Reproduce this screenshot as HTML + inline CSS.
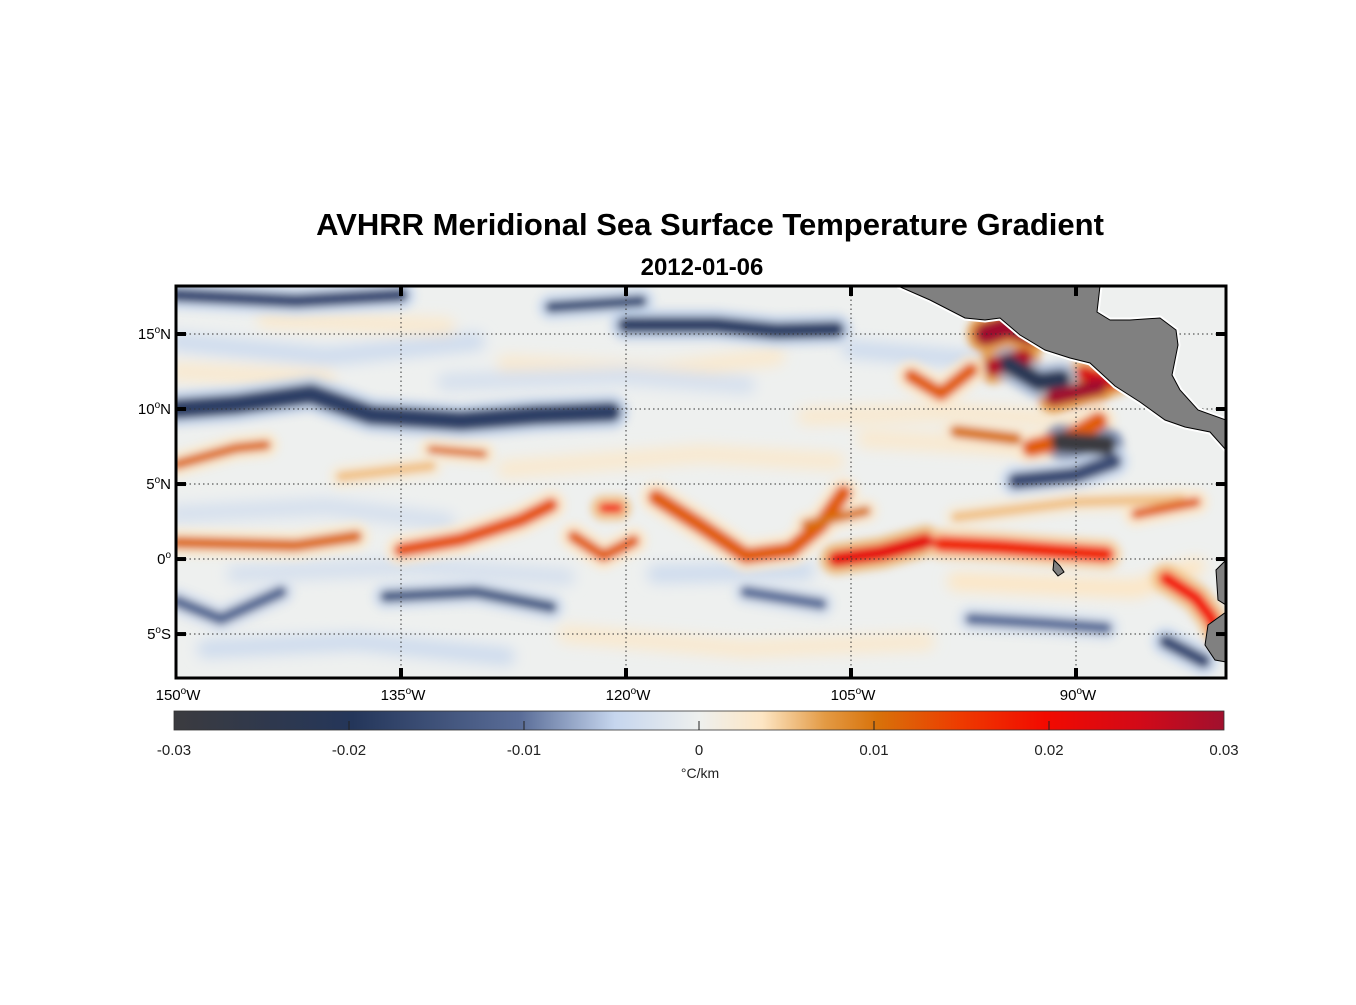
<!DOCTYPE html>
<html><head><meta charset="utf-8">
<style>
html,body{margin:0;padding:0;background:#fff;}
body{width:1356px;height:1000px;position:relative;overflow:hidden;font-family:"Liberation Sans",Arial,sans-serif;}
</style></head>
<body>
<svg id="fig" width="1356" height="1000" xmlns="http://www.w3.org/2000/svg">
<defs>
<clipPath id="mapclip"><rect x="176" y="286" width="1050" height="392"/></clipPath>
<filter id="blur" x="-20%" y="-20%" width="140%" height="140%"><feGaussianBlur stdDeviation="4"/></filter>
<filter id="blurbg" x="-20%" y="-20%" width="140%" height="140%"><feGaussianBlur stdDeviation="7"/></filter>
<linearGradient id="cbgrad" x1="0" x2="1" y1="0" y2="0">
<stop offset="0" stop-color="#3b3b3f"/>
<stop offset="0.17" stop-color="#24365a"/>
<stop offset="0.33" stop-color="#5a6d98"/>
<stop offset="0.42" stop-color="#c6d6ee"/>
<stop offset="0.5" stop-color="#eef0ee"/>
<stop offset="0.56" stop-color="#fde6c4"/>
<stop offset="0.62" stop-color="#e39a44"/>
<stop offset="0.67" stop-color="#d8720a"/>
<stop offset="0.75" stop-color="#ee3a00"/>
<stop offset="0.83" stop-color="#f20a00"/>
<stop offset="0.92" stop-color="#d20a18"/>
<stop offset="1" stop-color="#a0102e"/>
</linearGradient>
</defs>
<text x="710" y="235" text-anchor="middle" font-size="31" font-weight="bold" fill="#000">AVHRR Meridional Sea Surface Temperature Gradient</text>
<text x="702" y="275" text-anchor="middle" font-size="24" font-weight="bold" fill="#000">2012-01-06</text>
<g id="map" clip-path="url(#mapclip)">
<rect x="176" y="286" width="1050" height="392" fill="#eef0ef"/>
<g id="bgfield" filter="url(#blurbg)"></g>
<g id="field" filter="url(#blur)"></g>
<g id="grid"></g>
<path d="M898,286 L1100,286 L1097,312 L1110,320 L1130,320 L1160,318 L1176,330 L1178,345 L1172,375 L1180,390 L1198,410 L1226,420 L1226,450 L1210,432 L1185,427 L1165,420 L1140,402 L1115,386 L1090,363 L1070,358 L1045,350 L1020,335 L1000,318 L985,320 L965,318 L930,300 Z" fill="#808080" stroke="#fff" stroke-width="5" paint-order="stroke"/>
<path d="M898,286 L1100,286 L1097,312 L1110,320 L1130,320 L1160,318 L1176,330 L1178,345 L1172,375 L1180,390 L1198,410 L1226,420 L1226,450 L1210,432 L1185,427 L1165,420 L1140,402 L1115,386 L1090,363 L1070,358 L1045,350 L1020,335 L1000,318 L985,320 L965,318 L930,300 Z" fill="none" stroke="#000" stroke-width="1"/>
<path d="M1226,560 L1216,570 L1218,600 L1226,605 Z M1226,612 L1208,625 L1205,645 L1215,660 L1226,662 Z" fill="#808080" stroke="#000" stroke-width="1"/>
<path d="M1054,560 L1060,566 L1064,572 L1058,576 L1053,570 Z" fill="#808080" stroke="#000" stroke-width="1"/>
</g>
<rect x="176" y="286" width="1050" height="392" fill="none" stroke="#000" stroke-width="3"/>
<g id="axes"></g>
<rect x="174" y="711" width="1050" height="19" fill="url(#cbgrad)" stroke="#333" stroke-width="0.8"/>
<g id="cbticks"></g>
<text x="700" y="778" text-anchor="middle" font-size="14" fill="#222">°C/km</text>
</svg>
<script>
const NS='http://www.w3.org/2000/svg';
const lonMin=-150, lonMax=-80, latMin=-7.93, latMax=18.2;
const lonTicks=[-150,-135,-120,-105,-90];
const lonLabels=['150','135','120','105','90'];
const latTicks=[15,10,5,0,-5];
const latLabels=['15','10','5','0','5'];
const latHemi=['N','N','N','','S'];
const cbTicks=[-0.03,-0.02,-0.01,0,0.01,0.02,0.03];
const cbLabels=['-0.03','-0.02','-0.01','0','0.01','0.02','0.03'];
// weak background texture features
const bgLon=[
 [-150,-140,-130],[-128,-118,-110],[-105,-96],[-150,-140,-132],[-128,-115,-106],[-104,-94],
 [-148,-138,-128],[-124,-112,-100],[-150,-140],[-132,-120,-112],[-108,-98,-90],[-146,-134,-124],
 [-118,-108],[-98,-86,-82],[-144,-132]
];
const bgLat=[
 [14.5,13.5,14.5],[13.0,12.5,13.5],[14.0,13.2],[3.0,3.5,2.5],[6.0,7.0,6.5],[8.0,7.5],
 [-6.0,-5.5,-6.5],[-5.0,-6.0,-5.5],[12.5,12.0],[11.8,12.2,11.6],[9.5,9.8,9.2],[-1.0,-0.5,-1.2],
 [-1.0,-0.8],[-1.5,-2.0,-0.5],[16.0,15.5]
];
const bgVal=[-0.004,0.003,-0.004,-0.003,0.003,0.003,-0.004,0.003,0.003,-0.003,0.003,-0.003,-0.004,0.004,0.003];
// gradient features
const featLon=[
 [-150,-146,-142,-138],
 [-135,-131,-127,-125],
 [-123.5,-121.5,-119.5],
 [-121.5,-120.5],
 [-118,-115,-112,-109,-107,-105.5],
 [-106,-103,-100],
 [-99,-95,-91,-88],
 [-84,-82,-81,-80.5],
 [-150,-146,-144],
 [-133,-129.5],
 [-139,-133],
 [-96,-94.5,-93],
 [-95.5,-93.5],
 [-101,-99,-97],
 [-89.5,-87.5,-86],
 [-91.5,-88.5],
 [-93,-90.5,-88.5],
 [-150,-146,-141,-137,-131,-126,-121],
 [-150,-142,-135],
 [-125,-119],
 [-120,-114,-110,-106],
 [-94.5,-92.5,-91],
 [-91,-88],
 [-94,-90,-87.5],
 [-150,-147,-143],
 [-136,-130,-125],
 [-112,-107],
 [-97,-92,-88],
 [-84,-81.5],
 [-108,-104],
 [-98,-90,-83],
 [-86,-82],
 [-98,-94]
];
const featLat=[
 [1.1,1.0,0.9,1.5],
 [0.6,1.3,2.6,3.6],
 [1.5,0.2,1.2],
 [3.4,3.4],
 [4.1,2.2,0.2,0.6,2.3,4.4],
 [0.0,0.4,1.2],
 [1.0,0.8,0.5,0.3],
 [-1.3,-2.6,-3.9,-5.0],
 [6.3,7.4,7.6],
 [7.3,7.0],
 [5.5,6.2],
 [15.0,15.5,15.0],
 [12.8,13.4],
 [12.2,11.0,12.6],
 [12.4,11.8,12.6],
 [10.8,11.5],
 [7.4,8.0,9.2],
 [10.0,10.3,11.0,9.6,9.2,9.6,9.8],
 [17.6,17.2,17.6],
 [16.8,17.2],
 [15.6,15.6,15.2,15.3],
 [13.0,11.8,12.0],
 [7.8,7.6],
 [5.2,5.6,6.5],
 [-2.8,-4.0,-2.2],
 [-2.5,-2.2,-3.2],
 [-2.2,-3.0],
 [-4.0,-4.3,-4.6],
 [-5.5,-6.8],
 [2.3,3.2],
 [2.8,3.8,4.0],
 [3.0,3.8],
 [8.5,8.0]
];
const featVal=[0.011,0.013,0.012,0.02,0.012,0.022,0.017,0.02,0.011,0.011,0.006,0.03,0.028,0.012,0.024,0.03,0.012,-0.018,-0.016,-0.015,-0.018,-0.022,-0.03,-0.016,-0.011,-0.013,-0.01,-0.01,-0.016,0.01,0.006,0.012,0.01];
const featWidth=[12,14,12,10,16,16,16,14,10,8,10,22,18,14,14,16,18,20,14,12,16,18,20,16,12,12,12,12,14,10,10,10,12];

function xOf(lon){return 176+(lon-lonMin)/(lonMax-lonMin)*1050;}
function yOf(lat){return 286+(latMax-lat)/(latMax-latMin)*392;}
function cbX(v){return 174+(v+0.03)/0.06*1050;}
const cStops=[[-0.03,[59,59,63]],[-0.02,[36,54,90]],[-0.01,[90,109,152]],[-0.005,[198,214,238]],[0,[238,240,238]],[0.004,[253,230,196]],[0.008,[227,154,68]],[0.01,[216,114,10]],[0.015,[238,58,0]],[0.02,[242,10,0]],[0.025,[210,10,24]],[0.03,[160,16,46]]];
function cmap(v){
 v=Math.max(-0.03,Math.min(0.03,v));
 for(let i=0;i<cStops.length-1;i++){const a=cStops[i],b=cStops[i+1];
  if(v<=b[0]){const t=(v-a[0])/(b[0]-a[0]);const c=a[1].map((x,k)=>Math.round(x+(b[1][k]-x)*t));return 'rgb('+c.join(',')+')';}}
 return 'rgb(160,16,46)';
}
const bgfield=document.getElementById('bgfield');
for(let i=0;i<bgVal.length;i++){
 const pts=bgLon[i].map((lo,k)=>xOf(lo).toFixed(1)+','+yOf(bgLat[i][k]).toFixed(1));
 const pl=document.createElementNS(NS,'polyline');
 
 
 pl.setAttribute('points',pts.join(' '));
 pl.setAttribute('fill','none');
 pl.setAttribute('stroke',cmap(bgVal[i]));
 pl.setAttribute('stroke-width',18);
 pl.setAttribute('stroke-linecap','round');pl.setAttribute('stroke-linejoin','round');
 bgfield.appendChild(pl);
}
const field=document.getElementById('field');
for(let i=0;i<featVal.length;i++){
 const pts=featLon[i].map((lo,k)=>xOf(lo).toFixed(1)+','+yOf(featLat[i][k]).toFixed(1));
 const halo=document.createElementNS(NS,'polyline');
 
 
 halo.setAttribute('points',pts.join(' '));
 halo.setAttribute('fill','none');
 halo.setAttribute('stroke',cmap(featVal[i]*0.3));
 halo.setAttribute('stroke-width',featWidth[i]+16);
 halo.setAttribute('stroke-linecap','round');halo.setAttribute('stroke-linejoin','round');
 halo.setAttribute('opacity','0.8');
 field.appendChild(halo);
}
for(let i=0;i<featVal.length;i++){
 const pts=featLon[i].map((lo,k)=>xOf(lo).toFixed(1)+','+yOf(featLat[i][k]).toFixed(1));
 const pl=document.createElementNS(NS,'polyline');
 
 
 pl.setAttribute('points',pts.join(' '));
 pl.setAttribute('fill','none');
 pl.setAttribute('stroke',cmap(featVal[i]));
 pl.setAttribute('stroke-width',featWidth[i]);
 pl.setAttribute('stroke-linecap','round');pl.setAttribute('stroke-linejoin','round');
 field.appendChild(pl);
}
const grid=document.getElementById('grid');
const axes=document.getElementById('axes');
function line(g,x1,y1,x2,y2,attrs,name){
 const l=document.createElementNS(NS,'line');
 
 
 l.setAttribute('x1',x1);l.setAttribute('y1',y1);l.setAttribute('x2',x2);l.setAttribute('y2',y2);
 for(const k in attrs)l.setAttribute(k,attrs[k]);
 g.appendChild(l);
}
const dot={stroke:'#333','stroke-width':1,'stroke-dasharray':'1.5,3'};
const tk={stroke:'#000','stroke-width':4};
lonTicks.forEach((lo,i)=>{
 const x=xOf(lo);
 if(i>0){line(grid,x,286,x,678,dot,'lon-gridline');
  line(axes,x,286,x,296,tk,'x-tick-top');line(axes,x,668,x,678,tk,'x-tick-bottom');}
 const t=document.createElementNS(NS,'text');
 
 
 t.setAttribute('x',x+2);t.setAttribute('y',700);t.setAttribute('text-anchor','middle');t.setAttribute('font-size','15');
 t.innerHTML=lonLabels[i]+'<tspan dy="-6" font-size="10">o</tspan><tspan dy="6">W</tspan>';
 axes.appendChild(t);
});
latTicks.forEach((la,i)=>{
 const y=yOf(la);
 line(grid,176,y,1226,y,dot,'lat-gridline');
 line(axes,176,y,186,y,tk,'y-tick-left');line(axes,1216,y,1226,y,tk,'y-tick-right');
 const t=document.createElementNS(NS,'text');
 
 
 t.setAttribute('x',171);t.setAttribute('y',y+5);t.setAttribute('text-anchor','end');t.setAttribute('font-size','15');
 t.innerHTML=latLabels[i]+'<tspan dy="-6" font-size="10">o</tspan><tspan dy="6">'+latHemi[i]+'</tspan>';
 axes.appendChild(t);
});
const cbt=document.getElementById('cbticks');
cbTicks.forEach((v,i)=>{
 const x=cbX(v);
 if(i>0&&i<cbTicks.length-1)line(cbt,x,721,x,730,{stroke:'#222','stroke-width':1},'colorbar-tick');
 const t=document.createElementNS(NS,'text');
 
 
 t.setAttribute('x',x);t.setAttribute('y',755);t.setAttribute('text-anchor','middle');t.setAttribute('font-size','15');t.setAttribute('fill','#222');
 t.textContent=cbLabels[i];
 cbt.appendChild(t);
});
</script>
</body></html>
